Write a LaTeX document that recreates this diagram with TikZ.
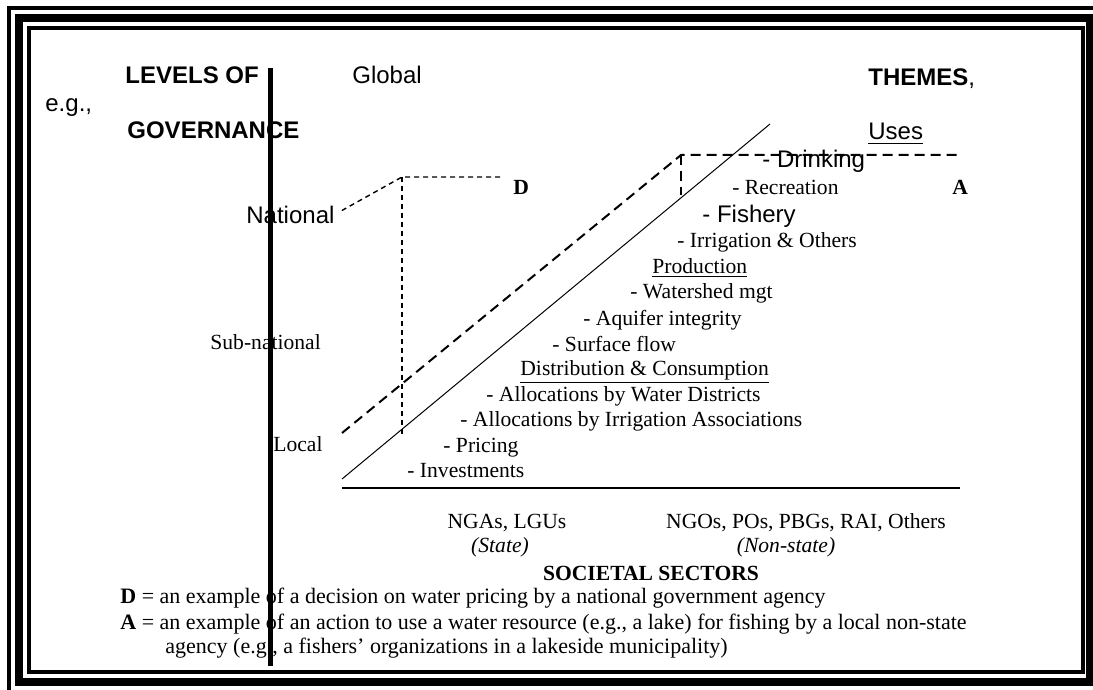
\documentclass[tikz,border=0pt]{standalone}
\usepackage{fontspec}
\setmainfont{Liberation Serif}
\setsansfont{Liberation Sans}
\usetikzlibrary{positioning}

\begin{document}
\begin{tikzpicture}[
    x = 0.5pt, % one pixel of the scan
    y = -0.5pt, % rows run downwards
    every node/.style = {inner sep = 0pt, anchor = base west} % text sits on its baseline
    ]

    \tikzset{
    sans/.style = {font = \sffamily\fontsize{12}{14}\selectfont},
    sanshead/.style = {font = \sffamily\bfseries\fontsize{12}{14}\selectfont},
    serif/.style = {font = \fontsize{10.8}{13}\selectfont},
    serifhead/.style = {font = \bfseries\fontsize{10.8}{13}\selectfont},
    slant/.style = {font = \itshape\fontsize{10.8}{13}\selectfont},
    notetext/.style = {font = \fontsize{11}{13}\selectfont},
    longdash/.style = {line width = 1pt, dash pattern = on 5pt off 3pt},
    shortdash/.style = {line width = 0.7pt, dash pattern = on 2.5pt off 2pt},
    axisline/.style = {line width = 0.6pt}
    }

    \useasboundingbox (0,0) rectangle (1093,690);

    % frame
    \draw[line width = 2pt] (9,8) rectangle (1102,700);
    \draw[line width = 4pt] (19,18) rectangle (1090,682);
    \draw[line width = 2pt] (29,28) rectangle (1083,672);

    % levels of governance
    \node[sanshead] (levels) at (125,84) {LEVELS OF};
    \node[sans] (eg) at (45,112) {e.g.,};
    \node[sanshead] (governance) at (127,139) {GOVERNANCE};
    \node[sans] (global) at (352,84) {Global};
    \node[sans] (national) at (246,223) {National};
    \node[serif] (subnational) at (210,349) {Sub-national};
    \node[serif] (local) at (273,451) {Local};

    % themes
    \node[sans] (themes) at (868,86) {\textbf{THEMES},};
    \node[sans] (uses) at (868,140) {\underline{Uses}};
    \node[sans] (drinking) at (762,168) {- Drinking};
    \node[serif] (recreation) at (732,194) {- Recreation};
    \node[sans] (fishery) at (702,222) {- Fishery};
    \node[serif] (irrigation) at (677,247) {- Irrigation \& Others};
    \node[serif] (production) at (652,273) {\underline{Production}};
    \node[serif] (watershed) at (630,298) {- Watershed mgt};
    \node[serif] (aquifer) at (583,325) {- Aquifer integrity};
    \node[serif] (surface) at (552,351) {- Surface flow};
    \node[serif] (distribution) at (520,375) {\underline{Distribution \& Consumption}};
    \node[serif] (districts) at (486,401) {- Allocations by Water Districts};
    \node[serif] (associations) at (460,426) {- Allocations by Irrigation Associations};
    \node[serif] (pricing) at (443,452) {- Pricing};
    \node[serif] (investments) at (407,477) {- Investments};

    \node[serifhead] (dmark) at (513,195) {D};
    \node[serifhead] (amark) at (952,194) {A};

    % societal sectors
    \node[serif, anchor = base] (stategroups) at (507,528) {NGAs, LGUs};
    \node[slant, anchor = base] (state) at (500,552) {(State)};
    \node[serif, anchor = base] (nonstategroups) at (806,528) {NGOs, POs, PBGs, RAI, Others};
    \node[slant, anchor = base] (nonstate) at (786,552) {(Non-state)};
    \node[serifhead, anchor = base] (sectors) at (651,580) {SOCIETAL SECTORS};

    % legend
    \node[notetext] (dnote) at (120,603) {\textbf{D} = an example of a decision on water pricing by a national government agency};
    \node[notetext] (anote) at (120,629) {\textbf{A} = an example of an action to use a water resource (e.g., a lake) for fishing by a local non-state};
    \node[notetext] (anotetwo) at (165,653) {agency (e.g., a fishers' organizations in a lakeside municipality)};

    % lines
    \coordinate (slow) at (342,479);
    \coordinate (shigh) at (770,124);
    \coordinate (axisleft) at (342,488);
    \coordinate (axisright) at (960,488);
    \coordinate (alow) at (342,433);
    \coordinate (acorner) at (681,155);
    \coordinate (aend) at (960,155);
    \coordinate (afoot) at (681,195);
    \coordinate (dcorner) at (402,177);
    \coordinate (dend) at (502,177);
    \coordinate (dfoot) at (402,437);

    \draw[line width = 0.5pt] (slow) -- (shigh);
    \draw[axisline] (axisleft) -- (axisright);
    \draw[longdash] (alow) -- (acorner) -- (aend);
    \draw[longdash] (acorner) -- (afoot);
    \draw[shortdash, shorten < = 4pt] (national.east) -- (dcorner) -- (dend);
    \draw[shortdash] (dcorner) -- (dfoot);

    % axis of levels
    \coordinate (bartop) at (270,68);
    \coordinate (barfoot) at (270,666);
    \draw[line width = 2.5pt] (bartop) -- (barfoot);
\end{tikzpicture}
\end{document}
